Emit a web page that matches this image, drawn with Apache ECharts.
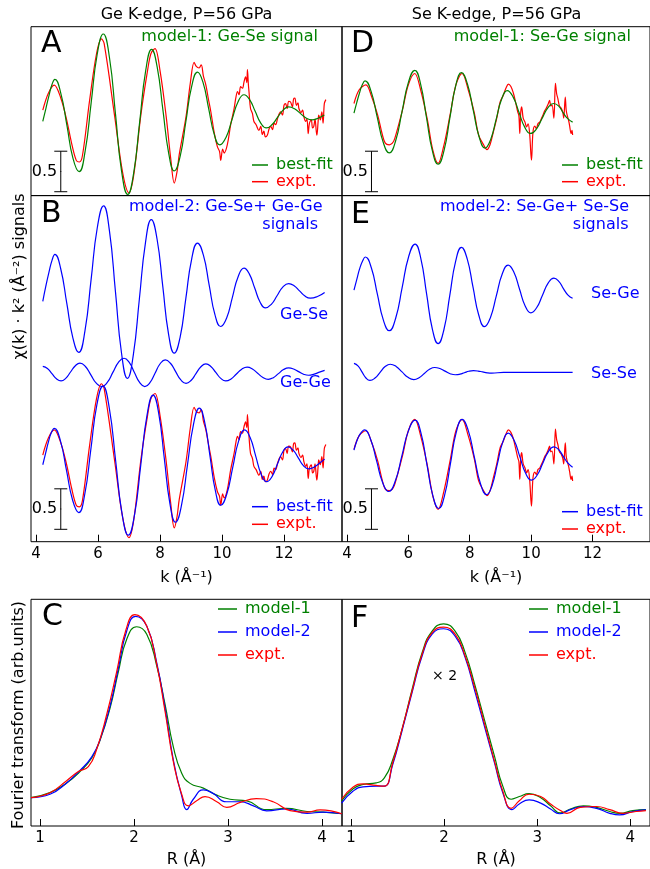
<!DOCTYPE html>
<html><head><meta charset="utf-8">
<script src="https://cdn.jsdelivr.net/npm/echarts@6/dist/echarts.min.js"></script>
<style>html,body{margin:0;padding:0;background:#fff}#c{width:650px;height:869px}</style>
</head><body><div id="c"></div>
<script>
// ---------------- DATA (chi(k)*k^2 in native units, each curve around its own zero) ----------------
const kTicks = [4, 6, 8, 10, 12];
const rTicks = [1, 2, 3, 4];

// Ge K-edge experimental signal (same data shown in A and B)
const geExpt = [[4.22,0.06],[4.40,0.27],[4.59,0.37],[4.80,0.21],[4.99,-0.06],[5.15,-0.35],[5.30,-0.56],[5.40,-0.58],[5.50,-0.50],[5.73,0.18],[5.95,0.75],[6.11,0.94],[6.20,0.88],[6.54,-0.02],[6.80,-0.72],[7.00,-0.96],[7.15,-0.75],[7.39,0.02],[7.60,0.55],[7.71,0.76],[7.84,0.82],[8.00,0.55],[8.20,-0.02],[8.35,-0.55],[8.46,-0.84],[8.55,-0.70],[8.62,-0.49],[8.84,-0.02],[8.98,0.40],[9.10,0.65],[9.17,0.60],[9.26,0.58],[9.33,0.62],[9.40,0.48],[9.48,0.37],[9.56,0.20],[9.64,0.04],[9.75,-0.22],[9.85,-0.39],[9.92,-0.45],[9.96,-0.56],[10.02,-0.42],[10.07,-0.47],[10.17,-0.37],[10.28,-0.12],[10.39,0.08],[10.45,0.22],[10.50,0.29],[10.55,0.25],[10.60,0.35],[10.66,0.33],[10.71,0.41],[10.76,0.47],[10.80,0.40],[10.82,0.56],[10.85,0.38],[10.87,0.29],[10.92,0.08],[10.98,0.02],[11.03,-0.08],[11.10,-0.12],[11.19,-0.19],[11.25,-0.14],[11.30,-0.24],[11.35,-0.20],[11.40,-0.27],[11.46,-0.25],[11.52,-0.17],[11.57,-0.14],[11.63,-0.18],[11.68,-0.10],[11.73,-0.12],[11.80,-0.03],[11.89,0.04],[11.95,0.00],[12.00,0.12],[12.05,0.14],[12.10,0.08],[12.15,0.17],[12.21,0.16],[12.27,0.10],[12.31,0.20],[12.35,0.21],[12.40,0.12],[12.45,0.15],[12.48,0.08],[12.55,0.03],[12.60,0.06],[12.64,-0.02],[12.70,-0.08],[12.74,-0.05],[12.78,-0.23],[12.82,-0.10],[12.88,-0.06],[12.92,-0.16],[12.96,-0.14],[13.00,-0.05],[13.04,-0.20],[13.06,-0.25],[13.10,-0.08],[13.12,0.00],[13.17,-0.06],[13.22,0.04],[13.26,-0.10],[13.30,0.14],[13.35,0.19]];
// model-1 best fit, Ge-Se signal (A)
const geFit1 = [[4.22,-0.08],[4.32,0.08],[4.42,0.24],[4.52,0.38],[4.61,0.44],[4.80,0.27],[5.00,-0.13],[5.19,-0.53],[5.39,-0.70],[5.585,-0.45],[5.78,0.15],[5.975,0.75],[6.17,1.00],[6.37,0.71],[6.565,0.01],[6.76,-0.69],[6.96,-0.98],[7.15,-0.72],[7.345,-0.085],[7.54,0.55],[7.73,0.81],[7.91,0.59],[8.095,0.06],[8.28,-0.47],[8.46,-0.69],[8.65,-0.51],[8.835,-0.08],[9.02,0.35],[9.21,0.53],[9.39,0.40],[9.57,0.08],[9.75,-0.24],[9.93,-0.37],[10.125,-0.28],[10.32,-0.06],[10.515,0.16],[10.71,0.25],[10.89,0.19],[11.07,0.045],[11.25,-0.10],[11.43,-0.16],[11.61,-0.12],[11.79,-0.03],[11.97,0.06],[12.15,0.10],[12.34,0.077],[12.525,0.02],[12.71,-0.037],[12.90,-0.06],[13.10,-0.04],[13.30,0.00]];
// model-2 components and fit (B)
const geGeSe = [[4.22,-0.14],[4.32,0.05],[4.42,0.22],[4.52,0.37],[4.61,0.44],[4.80,0.26],[4.995,-0.165],[5.19,-0.59],[5.38,-0.77],[5.58,-0.505],[5.78,0.135],[5.98,0.775],[6.18,1.04],[6.37,0.73],[6.565,-0.025],[6.76,-0.78],[6.95,-1.09],[7.14,-0.80],[7.335,-0.11],[7.53,0.58],[7.72,0.87],[7.905,0.63],[8.09,0.045],[8.275,-0.54],[8.46,-0.78],[8.65,-0.58],[8.835,-0.10],[9.02,0.38],[9.21,0.58],[9.40,0.43],[9.585,0.065],[9.77,-0.30],[9.96,-0.45],[10.15,-0.345],[10.335,-0.09],[10.52,0.165],[10.71,0.27],[10.88,0.20],[11.055,0.025],[11.23,-0.15],[11.40,-0.22],[11.59,-0.176],[11.775,-0.07],[11.96,0.036],[12.15,0.08],[12.325,0.054],[12.50,-0.01],[12.675,-0.074],[12.85,-0.10],[13.08,-0.08],[13.31,-0.03]];
const geGeGe = [[4.22,0.07],[4.37,0.044],[4.515,-0.02],[4.66,-0.084],[4.81,-0.11],[4.96,-0.078],[5.115,0.00],[5.27,0.078],[5.42,0.11],[5.595,0.068],[5.77,-0.035],[5.945,-0.138],[6.12,-0.18],[6.30,-0.129],[6.48,-0.005],[6.66,0.119],[6.84,0.17],[7.0075,0.119],[7.175,-0.005],[7.3425,-0.129],[7.51,-0.18],[7.675,-0.132],[7.84,-0.015],[8.005,0.102],[8.17,0.15],[8.3375,0.108],[8.505,0.005],[8.6725,-0.098],[8.84,-0.14],[9.00,-0.105],[9.16,-0.02],[9.32,0.065],[9.48,0.10],[9.64,0.069],[9.80,-0.005],[9.96,-0.079],[10.12,-0.11],[10.2925,-0.085],[10.465,-0.025],[10.6375,0.035],[10.81,0.06],[10.98,0.038],[11.15,-0.015],[11.32,-0.068],[11.49,-0.09],[11.655,-0.07],[11.82,-0.02],[11.985,0.03],[12.15,0.05],[12.31,0.037],[12.47,0.005],[12.63,-0.027],[12.79,-0.04],[12.95,-0.03],[13.12,-0.005],[13.31,0.02]];
const geFit2 = [[4.22,-0.06],[4.31,0.08],[4.40,0.22],[4.50,0.34],[4.59,0.39],[4.7875,0.238],[4.985,-0.13],[5.1825,-0.498],[5.38,-0.65],[5.575,-0.421],[5.77,0.13],[5.965,0.681],[6.16,0.91],[6.365,0.64],[6.57,-0.01],[6.775,-0.66],[6.98,-0.93],[7.18,-0.677],[7.38,-0.065],[7.58,0.547],[7.78,0.80],[7.96,0.57],[8.14,0.015],[8.32,-0.54],[8.50,-0.77],[8.6925,-0.563],[8.885,-0.065],[9.0775,0.433],[9.27,0.64],[9.4425,0.464],[9.615,0.04],[9.7875,-0.384],[9.96,-0.56],[10.1525,-0.424],[10.345,-0.095],[10.5375,0.234],[10.73,0.37],[10.9075,0.276],[11.085,0.05],[11.2625,-0.176],[11.44,-0.27],[11.6125,-0.207],[11.785,-0.055],[11.9575,0.097],[12.13,0.16],[12.295,0.12],[12.46,0.025],[12.625,-0.07],[12.79,-0.11],[12.96,-0.09],[13.13,-0.045],[13.31,0.01]];

// Se K-edge experimental signal (same data shown in D and E)
const seExpt = [[4.23,0.13],[4.40,0.30],[4.62,0.36],[4.80,0.22],[5.00,-0.01],[5.15,-0.25],[5.25,-0.36],[5.38,-0.38],[5.48,-0.36],[5.56,-0.30],[5.81,0.05],[6.00,0.36],[6.21,0.50],[6.40,0.30],[6.62,-0.07],[6.80,-0.45],[6.97,-0.61],[7.15,-0.40],[7.37,0.01],[7.55,0.36],[7.75,0.50],[7.95,0.30],[8.15,0.01],[8.29,-0.26],[8.45,-0.38],[8.56,-0.44],[8.66,-0.38],[8.77,-0.22],[8.88,-0.05],[8.99,0.15],[9.09,0.23],[9.18,0.32],[9.26,0.37],[9.34,0.34],[9.42,0.26],[9.49,0.15],[9.56,0.03],[9.60,-0.02],[9.63,-0.24],[9.66,0.02],[9.69,0.09],[9.74,-0.05],[9.80,-0.10],[9.85,-0.16],[9.90,-0.12],[9.95,-0.24],[10.01,-0.57],[10.06,-0.22],[10.12,-0.15],[10.17,-0.18],[10.22,-0.12],[10.28,-0.10],[10.33,-0.06],[10.39,-0.01],[10.44,0.04],[10.49,0.07],[10.55,0.12],[10.60,0.17],[10.64,0.10],[10.68,0.11],[10.74,-0.05],[10.79,0.38],[10.83,0.25],[10.87,0.19],[10.92,0.10],[10.98,0.07],[11.03,0.02],[11.06,-0.05],[11.11,0.21],[11.14,0.05],[11.17,-0.01],[11.22,-0.08],[11.25,-0.14],[11.30,-0.24],[11.33,-0.20],[11.35,-0.26]];
const seFit1 = [[4.23,0.01],[4.32,0.14],[4.41,0.26],[4.50,0.36],[4.59,0.41],[4.7875,0.28],[4.985,-0.035],[5.1825,-0.35],[5.38,-0.48],[5.5875,-0.33],[5.795,0.03],[6.0025,0.39],[6.21,0.54],[6.40,0.37],[6.59,-0.04],[6.78,-0.45],[6.97,-0.62],[7.16,-0.455],[7.35,-0.055],[7.54,0.345],[7.73,0.51],[7.9225,0.374],[8.115,0.045],[8.3075,-0.284],[8.50,-0.42],[8.68,-0.316],[8.86,-0.065],[9.04,0.186],[9.22,0.29],[9.41,0.212],[9.60,0.025],[9.79,-0.162],[9.98,-0.24],[10.1675,-0.186],[10.355,-0.055],[10.5425,0.076],[10.73,0.13],[10.89,0.10],[11.05,0.01],[11.20,-0.06],[11.35,-0.10]];
const seSeGe = [[4.23,0.01],[4.32,0.14],[4.41,0.27],[4.51,0.37],[4.60,0.42],[4.795,0.287],[4.99,-0.035],[5.185,-0.357],[5.38,-0.49],[5.59,-0.333],[5.80,0.045],[6.01,0.423],[6.22,0.58],[6.4075,0.40],[6.595,-0.035],[6.7825,-0.47],[6.97,-0.65],[7.16,-0.475],[7.35,-0.055],[7.54,0.365],[7.73,0.54],[7.9175,0.396],[8.105,0.05],[8.2925,-0.296],[8.48,-0.44],[8.6725,-0.329],[8.865,-0.06],[9.0575,0.209],[9.25,0.32],[9.435,0.234],[9.62,0.025],[9.805,-0.184],[9.99,-0.27],[10.1775,-0.207],[10.365,-0.055],[10.5525,0.097],[10.74,0.16],[10.90,0.12],[11.05,0.03],[11.20,-0.05],[11.35,-0.09]];
const seSeSe = [[4.23,0.11],[4.36,0.08],[4.49,0.005],[4.62,-0.07],[4.75,-0.10],[4.915,-0.071],[5.08,0.00],[5.245,0.071],[5.41,0.10],[5.6025,0.072],[5.795,0.005],[5.9875,-0.062],[6.18,-0.09],[6.35,-0.068],[6.52,-0.015],[6.69,0.038],[6.86,0.06],[7.0275,0.047],[7.195,0.015],[7.3625,-0.017],[7.53,-0.03],[7.68,-0.023],[7.825,-0.005],[7.97,0.013],[8.12,0.02],[8.27,0.016],[8.42,0.005],[8.57,-0.006],[8.72,-0.01],[9.10,0.00],[9.50,0.00],[10.00,0.00],[10.50,0.00],[11.00,0.00],[11.35,0.00]];
const seFit2 = [[4.23,0.12],[4.31,0.22],[4.40,0.30],[4.49,0.35],[4.57,0.37],[4.7675,0.259],[4.965,-0.01],[5.1625,-0.279],[5.36,-0.39],[5.575,-0.261],[5.79,0.05],[6.005,0.361],[6.22,0.49],[6.4125,0.33],[6.605,-0.055],[6.7975,-0.44],[6.99,-0.60],[7.18,-0.439],[7.37,-0.05],[7.56,0.339],[7.75,0.50],[7.95,0.364],[8.15,0.035],[8.35,-0.294],[8.55,-0.43],[8.725,-0.319],[8.90,-0.05],[9.075,0.219],[9.25,0.33],[9.44,0.245],[9.63,0.04],[9.82,-0.165],[10.01,-0.25],[10.1925,-0.19],[10.375,-0.045],[10.5575,0.10],[10.74,0.16],[10.90,0.125],[11.05,0.04],[11.20,-0.04],[11.35,-0.09]];

// Fourier transforms (arb. units), R in Angstrom
const ftGeM1 = [[0.904,0.125],[1.106,0.147],[1.283,0.19],[1.425,0.24],[1.55,0.30],[1.638,0.378],[1.745,0.52],[1.833,0.68],[1.922,0.824],[2.028,0.879],[2.135,0.846],[2.24,0.709],[2.33,0.536],[2.418,0.349],[2.507,0.233],[2.596,0.188],[2.737,0.167],[2.88,0.136],[3.02,0.118],[3.20,0.111],[3.41,0.072],[3.62,0.078],[3.84,0.064],[4.01,0.061],[4.21,0.054]];
const ftGeM2 = [[0.904,0.125],[1.106,0.14],[1.283,0.19],[1.425,0.245],[1.55,0.305],[1.638,0.38],[1.745,0.53],[1.833,0.695],[1.922,0.86],[2.017,0.925],[2.135,0.882],[2.24,0.723],[2.33,0.52],[2.418,0.291],[2.507,0.133],[2.56,0.072],[2.63,0.118],[2.737,0.159],[2.84,0.144],[2.98,0.107],[3.13,0.107],[3.27,0.089],[3.41,0.067],[3.62,0.075],[3.84,0.056],[4.01,0.061],[4.21,0.054]];
const ftGeExpt = [[0.904,0.125],[1.106,0.147],[1.283,0.20],[1.408,0.24],[1.514,0.262],[1.60,0.335],[1.71,0.493],[1.815,0.68],[1.915,0.867],[2.01,0.932],[2.135,0.882],[2.24,0.716],[2.33,0.505],[2.418,0.284],[2.507,0.14],[2.578,0.089],[2.666,0.111],[2.755,0.13],[2.88,0.107],[2.986,0.082],[3.13,0.104],[3.30,0.121],[3.48,0.107],[3.66,0.068],[3.84,0.061],[3.98,0.071],[4.21,0.054]];
const ftSeM1 = [[0.90,0.111],[1.024,0.164],[1.13,0.183],[1.271,0.19],[1.359,0.212],[1.448,0.291],[1.554,0.435],[1.66,0.608],[1.766,0.767],[1.872,0.86],[1.995,0.892],[2.119,0.86],[2.225,0.767],[2.331,0.622],[2.437,0.464],[2.543,0.306],[2.631,0.176],[2.72,0.118],[2.808,0.13],[2.914,0.143],[3.038,0.125],[3.144,0.089],[3.25,0.058],[3.356,0.075],[3.497,0.089],[3.638,0.082],[3.78,0.064],[3.886,0.056],[4.027,0.068],[4.168,0.072]];
const ftSeM2 = [[0.90,0.101],[1.024,0.154],[1.13,0.173],[1.271,0.176],[1.359,0.176],[1.448,0.27],[1.554,0.428],[1.66,0.594],[1.766,0.752],[1.872,0.846],[1.995,0.870],[2.119,0.838],[2.225,0.745],[2.331,0.594],[2.437,0.435],[2.543,0.277],[2.631,0.147],[2.73,0.072],[2.808,0.097],[2.914,0.115],[3.038,0.101],[3.144,0.075],[3.239,0.054],[3.356,0.072],[3.497,0.086],[3.638,0.078],[3.78,0.056],[3.886,0.049],[4.027,0.064],[4.168,0.071]];
const ftSeExpt = [[0.90,0.118],[1.024,0.172],[1.13,0.186],[1.271,0.179],[1.359,0.176],[1.448,0.278],[1.554,0.435],[1.66,0.601],[1.766,0.76],[1.872,0.853],[1.995,0.877],[2.119,0.846],[2.225,0.752],[2.331,0.608],[2.437,0.447],[2.543,0.284],[2.631,0.154],[2.72,0.078],[2.808,0.111],[2.914,0.14],[3.038,0.13],[3.144,0.097],[3.25,0.068],[3.32,0.056],[3.462,0.082],[3.638,0.086],[3.78,0.072],[3.921,0.056],[4.062,0.064],[4.168,0.068]];

// vertical offsets used to stack the curves (in chi*k^2 units)
const offA = 0, offD = 0.012;
const offBFit = 1.01, offBGeGe = 2.095, offBGeSe = 3.107;
const offEFit = 1.01, offESeSe = 2.091, offESeGe = 3.095;
const scaleLen = 0.5, scaleK = 4.8, scaleLowTop = -0.947, scaleLowBot = 0.153;

// ---------------- CHART ----------------
const FONT = 'DejaVu Sans';
const G = '#008000', R = '#ff0000', B = '#0000ff', K = '#000000';
const chart = echarts.init(document.getElementById('c'), null, {renderer: 'canvas'});

const grids = [
  {left: 31, top: 26.7, width: 311, height: 168.9},   // A
  {left: 31, top: 195.6, width: 311, height: 346.1},  // B
  {left: 342, top: 26.7, width: 311, height: 168.9},  // D
  {left: 342, top: 195.6, width: 311, height: 346.1}, // E
  {left: 31, top: 599.3, width: 311, height: 231.4},  // C
  {left: 342, top: 599.3, width: 311, height: 231.4}  // F
].map(g => Object.assign({show: true, borderColor: '#000', borderWidth: 1, backgroundColor: 'transparent'}, g));

function xAx(gi, min, max, ticks, name, gap) {
  const a = {type: 'value', gridIndex: gi, min, max, splitLine: {show: false}, axisLine: {show: false}};
  if (!ticks) {
    Object.assign(a, {axisTick: {show: false}, axisLabel: {show: false}});
  } else {
    Object.assign(a, {
      axisTick: {show: true, inside: true, length: 7, customValues: ticks, lineStyle: {color: K, width: 1}},
      axisLabel: {show: true, customValues: ticks, fontSize: 15, fontFamily: FONT, color: K, margin: 5},
      name, nameLocation: 'middle', nameGap: gap,
      nameTextStyle: {fontSize: 16, fontFamily: FONT, color: K}
    });
  }
  return a;
}
const kMin = 3.84, kMax = 13.87, rMin = 0.904, rMax = 4.212;
const xAxes = [
  xAx(0, kMin, kMax, null), xAx(1, kMin, kMax, kTicks, 'k (Å⁻¹)', 28),
  xAx(2, kMin, kMax, null), xAx(3, kMin, kMax, kTicks, 'k (Å⁻¹)', 28),
  xAx(4, rMin, rMax, rTicks, 'R (Å)', 26), xAx(5, rMin, rMax, rTicks, 'R (Å)', 26)
];
function yAx(gi, min, max) { return {type: 'value', gridIndex: gi, min, max, show: false}; }
const yAxes = [yAx(0, -0.995, 1.09), yAx(1, 0, 4.273), yAx(2, -0.995, 1.09), yAx(3, 0, 4.273), yAx(4, 0, 1), yAx(5, 0, 1)];

function line(name, data, off, ai, color, smooth) {
  return {
    type: 'line', name, xAxisIndex: ai, yAxisIndex: ai,
    data: data.map(p => [p[0], +(p[1] + off).toFixed(4)]),
    showSymbol: false, symbol: 'none', smooth: smooth, clip: false,
    lineStyle: {color, width: 1.2}, itemStyle: {color}, silent: true, animation: false
  };
}
function scaleBar(ai, low) {
  return {
    type: 'line', xAxisIndex: ai, yAxisIndex: ai, silent: true, animation: false,
    lineStyle: {color: K, width: 1}, itemStyle: {color: K}, showSymbol: true, symbol: 'rect', symbolSize: [13, 1],
    data: [
      {value: [scaleK, low]},
      {value: [scaleK, low + scaleLen / 2], symbolSize: [1, 1],
        label: {show: true, formatter: String(scaleLen), position: 'left', distance: 3, fontSize: 16, fontFamily: FONT, color: K}},
      {value: [scaleK, low + scaleLen]}
    ]
  };
}
const SE = 0.35, SS = 0.5;
const series = [
  line('A|expt.', geExpt, offA, 0, R, SE), line('A|best-fit', geFit1, offA, 0, G, SS), scaleBar(0, scaleLowTop),
  line('B|Ge-Se', geGeSe, offBGeSe, 1, B, SS), line('B|Ge-Ge', geGeGe, offBGeGe, 1, B, SS),
  line('B|expt.', geExpt, offBFit, 1, R, SE), line('B|best-fit', geFit2, offBFit, 1, B, SS), scaleBar(1, scaleLowBot),
  line('D|expt.', seExpt, offD, 2, R, SE), line('D|best-fit', seFit1, offD, 2, G, SS), scaleBar(2, scaleLowTop),
  line('E|Se-Ge', seSeGe, offESeGe, 3, B, SS), line('E|Se-Se', seSeSe, offESeSe, 3, B, SS),
  line('E|expt.', seExpt, offEFit, 3, R, SE), line('E|best-fit', seFit2, offEFit, 3, B, SS), scaleBar(3, scaleLowBot),
  line('C|model-1', ftGeM1, 0, 4, G, SS), line('C|model-2', ftGeM2, 0, 4, B, SS), line('C|expt.', ftGeExpt, 0, 4, R, SS),
  line('F|model-1', ftSeM1, 0, 5, G, SS), line('F|model-2', ftSeM2, 0, 5, B, SS), line('F|expt.', ftSeExpt, 0, 5, R, SS)
];

function legend(left, top, items, gap, iw) {
  return {
    left, top, orient: 'vertical', padding: 0, itemGap: gap, icon: 'rect', itemWidth: iw, itemHeight: 1.5,
    selectedMode: false, formatter: n => n.split('|')[1],
    textStyle: {fontSize: 16, fontFamily: FONT, lineHeight: 16, padding: [0, 0, 0, 3]},
    data: items.map(it => ({name: it[0], textStyle: {color: it[1]}}))
  };
}
const legends = [
  legend(252, 157, [['A|best-fit', G], ['A|expt.', R]], 0.7, 16),
  legend(562, 157, [['D|best-fit', G], ['D|expt.', R]], 0.7, 16),
  legend(252, 498.7, [['B|best-fit', B], ['B|expt.', R]], 1.6, 16),
  legend(562, 503.7, [['E|best-fit', B], ['E|expt.', R]], 1.3, 16),
  legend(218, 601, [['C|model-1', G], ['C|model-2', B], ['C|expt.', R]], 7, 19),
  legend(529, 601, [['F|model-1', G], ['F|model-2', B], ['F|expt.', R]], 7, 19)
];

function txt(x, y, text, color, size, align, extra) {
  return Object.assign({type: 'text', x, y, silent: true,
    style: {text, fill: color, font: size + 'px "' + FONT + '"', textAlign: align || 'left', textVerticalAlign: 'middle'}}, extra || {});
}
const graphics = [
  txt(41, 44, 'A', K, 30), txt(41, 214, 'B', K, 30), txt(42, 617, 'C', K, 30),
  txt(351, 44, 'D', K, 30), txt(351, 215.5, 'E', K, 30), txt(351, 619, 'F', K, 30),
  txt(318, 37, 'model-1: Ge-Se signal', G, 16, 'right'),
  txt(631, 37, 'model-1: Se-Ge signal', G, 16, 'right'),
  txt(322.5, 206.7, 'model-2: Ge-Se+ Ge-Ge', B, 16, 'right'),
  txt(318, 225, 'signals', B, 16, 'right'),
  txt(629, 207, 'model-2: Se-Ge+ Se-Se', B, 16, 'right'),
  txt(628.5, 225, 'signals', B, 16, 'right'),
  txt(280, 315, 'Ge-Se', B, 16), txt(280, 383.3, 'Ge-Ge', B, 16),
  txt(591, 294.3, 'Se-Ge', B, 16), txt(591, 374, 'Se-Se', B, 16),
  txt(444.5, 676.7, '× 2', K, 14, 'center'),
  txt(20, 276.5, 'χ(k) · k² (Å⁻²) signals', K, 16, 'center', {rotation: Math.PI / 2}),
  txt(18.5, 715, 'Fourier transform (arb.units)', K, 16, 'center', {rotation: Math.PI / 2})
];

chart.setOption({
  animation: false,
  backgroundColor: '#fff',
  title: [
    {text: 'Ge K-edge, P=56 GPa', left: 186.5, top: 7, textAlign: 'center', padding: 0,
      textStyle: {fontSize: 16, fontWeight: 'normal', fontFamily: FONT, color: K, lineHeight: 16}},
    {text: 'Se K-edge, P=56 GPa', left: 496.5, top: 7, textAlign: 'center', padding: 0,
      textStyle: {fontSize: 16, fontWeight: 'normal', fontFamily: FONT, color: K, lineHeight: 16}}
  ],
  grid: grids, xAxis: xAxes, yAxis: yAxes, legend: legends, series, graphic: graphics
});
</script></body></html>
